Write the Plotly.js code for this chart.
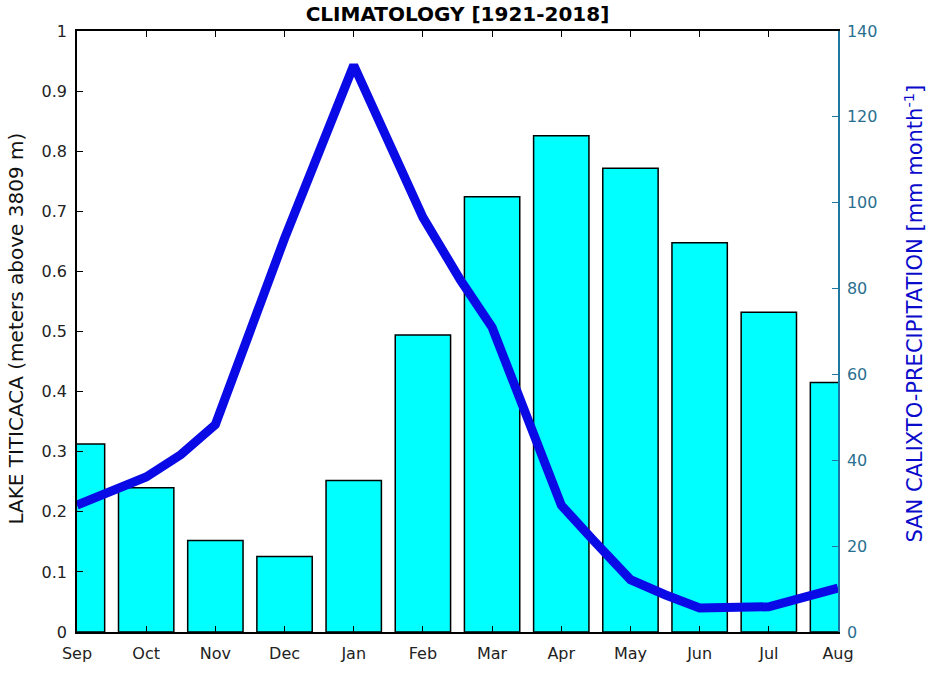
<!DOCTYPE html>
<html>
<head>
<meta charset="utf-8">
<script src="https://cdn.plot.ly/plotly-3.0.1.min.js"></script>
<style>
  html, body { margin: 0; padding: 0; background: #fff; }
</style>
</head>
<body>
<div id="myDiv" style="width:935px;height:683px;"></div>
<script>
var months = ['Sep', 'Oct', 'Nov', 'Dec', 'Jan', 'Feb', 'Mar', 'Apr', 'May', 'Jun', 'Jul', 'Aug'];
var monthPos = [0, 1, 2, 3, 4, 5, 6, 7, 8, 9, 10, 11];

// San Calixto precipitation, mm per month
var precip = [43.8, 33.6, 21.3, 17.6, 35.3, 69.2, 101.4, 115.6, 108, 90.7, 74.5, 58.1];

// Lake Titicaca level, metres above 3809 m
var lakeX = [0, 1, 1.5, 2, 3, 4, 5, 5.54, 6, 6.36, 6.6, 7, 7.46, 8, 8.5, 9, 10, 10.45, 11];
var lakeLevel = [0.211, 0.258, 0.295, 0.345, 0.655, 0.943, 0.69, 0.586, 0.507, 0.398, 0.331, 0.211, 0.153, 0.087, 0.062, 0.04, 0.042, 0.057, 0.073];

var bars = {
    x: monthPos,
    y: precip,
    type: 'bar',
    yaxis: 'y',
    marker: { color: '#00ffff', line: { color: '#000000', width: 1.5 } },
    hoverinfo: 'y'
};

var lake = {
    x: lakeX,
    y: lakeLevel,
    type: 'scatter',
    mode: 'lines',
    yaxis: 'y2',
    line: { color: '#0a0ae6', width: 9 },
    hoverinfo: 'y'
};

var tickFont = { family: 'DejaVu Sans, sans-serif', size: 16, color: '#222222' };

var layout = {
    width: 935,
    height: 683,
    margin: { l: 77, r: 97, t: 31, b: 51 },
    paper_bgcolor: '#ffffff',
    plot_bgcolor: '#ffffff',
    showlegend: false,
    bargap: 0.2,
    title: {
        text: '<b>CLIMATOLOGY [1921-2018]</b>',
        font: { family: 'DejaVu Sans, sans-serif', size: 20, color: '#000000' },
        x: 0.5, xref: 'paper', xanchor: 'center',
        y: 0.979, yref: 'container', yanchor: 'middle'
    },
    xaxis: {
        range: [0, 11],
        tickvals: monthPos,
        ticktext: months,
        ticks: 'inside',
        ticklen: 6,
        tickcolor: '#000000',
        ticklabelstandoff: 6,
        showline: true,
        linecolor: '#000000',
        linewidth: 1.5,
        mirror: 'ticks',
        showgrid: false,
        zeroline: false,
        tickfont: tickFont
    },
    // right axis: precipitation (bars drawn underneath)
    yaxis: {
        side: 'right',
        range: [0, 140],
        dtick: 20,
        ticks: 'inside',
        ticklen: 6,
        tickcolor: '#1f78a0',
        ticklabelstandoff: 4,
        showline: true,
        linecolor: '#1f78a0',
        linewidth: 1.5,
        showgrid: false,
        zeroline: false,
        tickfont: { family: 'DejaVu Sans, sans-serif', size: 16, color: '#2a6f8f' }
    },
    // left axis: lake level (line drawn on top)
    yaxis2: {
        side: 'left',
        overlaying: 'y',
        range: [0, 1],
        dtick: 0.1,
        ticks: 'inside',
        ticklen: 6,
        tickcolor: '#000000',
        ticklabelstandoff: 5,
        showline: true,
        linecolor: '#000000',
        linewidth: 1.5,
        showgrid: false,
        zeroline: false,
        tickfont: tickFont
    },
    annotations: [
        {
            text: 'LAKE TITICACA (meters above 3809 m)',
            textangle: -90,
            xref: 'paper', yref: 'paper',
            x: -0.08, y: 0.505,
            xanchor: 'center', yanchor: 'middle',
            showarrow: false,
            font: { family: 'DejaVu Sans, sans-serif', size: 20, color: '#111111' }
        },
        {
            text: 'SAN CALIXTO-PRECIPITATION [mm month<sup>-1</sup>]',
            textangle: -90,
            xref: 'paper', yref: 'paper',
            x: 1.1, y: 0.53,
            xanchor: 'center', yanchor: 'middle',
            showarrow: false,
            font: { family: 'DejaVu Sans, sans-serif', size: 21, color: '#0a0acc' }
        }
    ]
};

Plotly.newPlot('myDiv', [bars, lake], layout, { displayModeBar: false });
</script>
</body>
</html>
